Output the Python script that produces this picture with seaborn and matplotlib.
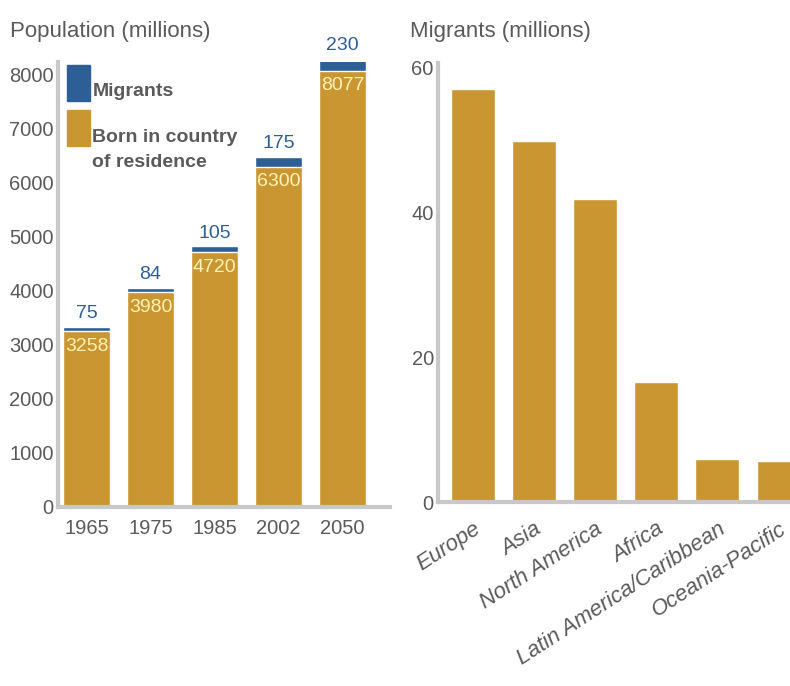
import matplotlib
matplotlib.use("Agg")
import matplotlib.pyplot as plt
import seaborn as sns
import pandas as pd
from matplotlib.patches import Rectangle

years = ["1965", "1975", "1985", "2002", "2050"]
born = [3258, 3980, 4720, 6300, 8077]
migrants = [75, 84, 105, 175, 230]

regions = ["Europe", "Asia", "North America", "Africa",
           "Latin America/Caribbean", "Oceania-Pacific"]
region_migrants = [57.0, 49.8, 41.8, 16.5, 6.0, 5.7]

GOLD = "#C99632"
BLUE = "#2D5F96"
GRAY = "#5a5a5a"
SPINE = "#c8c8c8"
CREAM = "#FFF3B8"

sns.set_theme(style="white")
plt.rcParams["font.family"] = ["Liberation Sans", "DejaVu Sans"]

fig = plt.figure(figsize=(7.9, 6.86), dpi=100)
ax1 = fig.add_axes([58/790, 1-507/686, (390-58)/790, (507-62)/686])
ax2 = fig.add_axes([438/790, 1-502/686, (800-438)/790, (502-63)/686])

df = pd.DataFrame({"year": years, "born": born, "migrants": migrants})
df["total"] = df["born"] + df["migrants"]

sns.barplot(data=df, x="year", y="total", order=years, color=BLUE,
            width=0.73, saturation=1, ax=ax1)
sns.barplot(data=df, x="year", y="born", order=years, color=GOLD,
            width=0.73, saturation=1, ax=ax1)

ax1.set_xlim(-0.445, 4.74)
ax1.set_ylim(0, 8240)
ax1.set_yticks(range(0, 8001, 1000))
ax1.set_xlabel("")
ax1.set_ylabel("")
for i, (b, m) in enumerate(zip(born, migrants)):
    ax1.text(i, b + m + 90, str(m), color=BLUE, fontsize=14,
             ha="center", va="bottom")
    ax1.text(i, b - 120, str(b), color=CREAM, fontsize=14,
             ha="center", va="top")

# legend
ax1.add_patch(Rectangle((-0.305, 7519), 0.36, 666, color=BLUE,
                        transform=ax1.transData, clip_on=False))
ax1.add_patch(Rectangle((-0.305, 6685), 0.36, 666, color=GOLD,
                        transform=ax1.transData, clip_on=False))
ax1.text(0.09, 7685, "Migrants", color=GRAY, fontsize=14,
         fontweight="bold", ha="left", va="center")
ax1.text(0.09, 6610, "Born in country\nof residence", color=GRAY,
         fontsize=14, fontweight="bold", ha="left", va="center",
         linespacing=1.55)

sns.barplot(x=regions, y=region_migrants, order=regions, color=GOLD,
            width=0.72, saturation=1, ax=ax2)
ax2.set_xlim(-0.57, 5.35)
ax2.set_ylim(0, 60.6)
ax2.set_yticks([0, 20, 40, 60])
ax2.set_xlabel("")
ax2.set_ylabel("")

for ax in (ax1, ax2):
    sns.despine(ax=ax, top=True, right=True)
    for s in ("left", "bottom"):
        ax.spines[s].set_color(SPINE)
        ax.spines[s].set_linewidth(3)
    ax.tick_params(axis="both", length=0, colors=GRAY, labelsize=14.5, pad=3)
ax1.tick_params(axis="x", pad=9)

for lab in ax2.get_xticklabels():
    lab.set_rotation(33)
    lab.set_ha("right")
    lab.set_va("top")
    lab.set_rotation_mode("anchor")
    lab.set_fontstyle("italic")
    lab.set_fontsize(16)
ax2.tick_params(axis="x", pad=12)

fig.text(10/790, 1-32/686, "Population (millions)", color=GRAY,
         fontsize=16, ha="left", va="center")
fig.text(410/790, 1-32/686, "Migrants (millions)", color=GRAY,
         fontsize=16, ha="left", va="center")

fig.savefig("out.png", dpi=100)
